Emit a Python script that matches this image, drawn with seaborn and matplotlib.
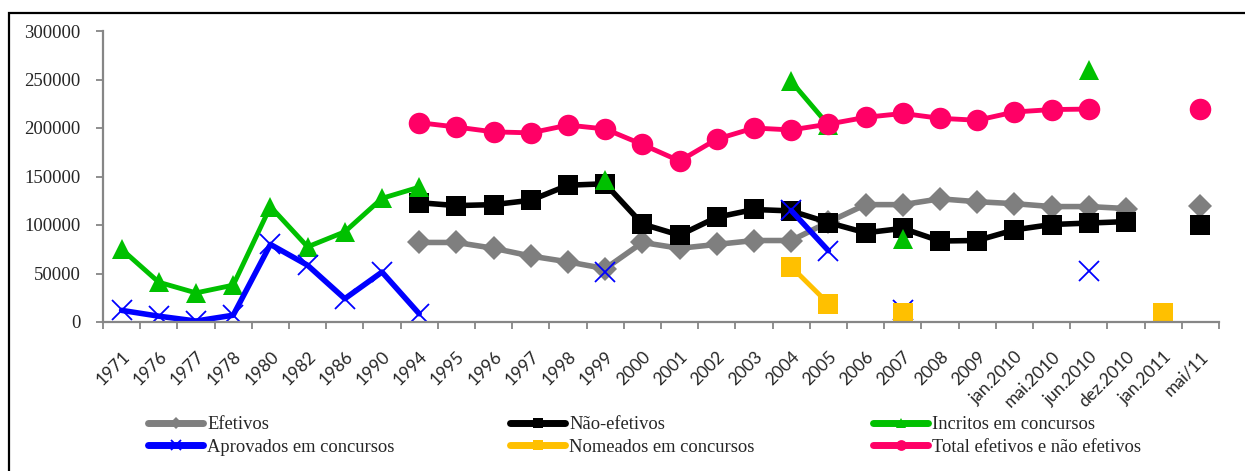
import numpy as np
import pandas as pd
import matplotlib
matplotlib.use("Agg")
import matplotlib.pyplot as plt
from matplotlib.lines import Line2D
from matplotlib.patches import Rectangle
from matplotlib.ticker import FixedLocator
import seaborn as sns

nan = np.nan

categories = ["1971", "1976", "1977", "1978", "1980", "1982", "1986", "1990", "1994", "1995",
              "1996", "1997", "1998", "1999", "2000", "2001", "2002", "2003", "2004", "2005",
              "2006", "2007", "2008", "2009", "jan.2010", "mai.2010", "jun.2010", "dez.2010",
              "jan.2011", "mai/11"]

efetivos = [nan, nan, nan, nan, nan, nan, nan, nan, 82000, 82000,
            76000, 68000, 62000, 55000, 82000, 76000, 80000, 84000, 84000, 103000,
            121000, 121000, 127000, 124000, 122000, 119000, 119000, 117000, nan, 120000]

nao_efetivos = [nan, nan, nan, nan, nan, nan, nan, nan, 123000, 120000,
                121000, 125500, 141000, 142500, 101000, 89500, 108000, 116000, 114500, 102500,
                92000, 96500, 83500, 84000, 95000, 100500, 102000, 103500, nan, 100000]

inscritos = [75000, 41000, 30000, 38000, 119000, 77500, 93000, 127500, 139000, nan,
             nan, nan, nan, 146000, nan, nan, nan, nan, 248000, 203000,
             nan, 86000, nan, nan, nan, nan, 260000, nan, nan, nan]

aprovados = [12000, 6000, 1000, 7000, 80000, 58500, 24000, 51500, 8500, nan,
             nan, nan, nan, 51500, nan, nan, nan, nan, 115000, 73500,
             nan, 12000, nan, nan, nan, nan, 52500, nan, nan, nan]

nomeados = [nan, nan, nan, nan, nan, nan, nan, nan, nan, nan,
            nan, nan, nan, nan, nan, nan, nan, nan, 57000, 19000,
            nan, 9000, nan, nan, nan, nan, nan, nan, 9500, nan]

total = [nan, nan, nan, nan, nan, nan, nan, nan, 205500, 201000,
         196000, 195000, 203000, 199000, 183000, 166000, 188500, 200000, 198000, 204000,
         211000, 215000, 210000, 208000, 216500, 219000, 219500, nan, nan, 219500]

series_names = ["Efetivos", "Não-efetivos", "Incritos em concursos",
                "Aprovados em concursos", "Nomeados em concursos", "Total efetivos e não efetivos"]
series_values = [efetivos, nao_efetivos, inscritos, aprovados, nomeados, total]

styles = [
    dict(color="#7f7f7f", marker="D", ms=12.5, lw=4.0, mew=0),
    dict(color="#000000", marker="s", ms=14.5, lw=4.0, mew=0),
    dict(color="#00c000", marker="^", ms=15, lw=3.5, mew=0),
    dict(color="#0000ff", marker="x", ms=14, lw=4.0, mew=1.3),
    dict(color="#ffc000", marker="s", ms=14.5, lw=3.5, mew=0),
    dict(color="#ff0066", marker="o", ms=15.5, lw=3.5, mew=0),
]

sns.set_theme(style="white")
plt.rcParams["font.family"] = ["Liberation Serif", "DejaVu Serif"]

fig = plt.figure(figsize=(12.45, 4.71), dpi=100)
ax = fig.add_axes([103 / 1245, 1 - 322 / 471, (1219 - 103) / 1245, (322 - 31) / 471])

x = np.arange(len(categories))
handles = []
for name, vals, st in zip(series_names, series_values, styles):
    v = np.array(vals, dtype=float)
    valid = ~np.isnan(v)
    seg = np.cumsum(~valid)
    df = pd.DataFrame({"x": x[valid], "y": v[valid], "seg": seg[valid]})
    sns.lineplot(data=df, x="x", y="y", units="seg", estimator=None, ax=ax,
                 color=st["color"], marker=st["marker"], markersize=st["ms"],
                 linewidth=st["lw"], markeredgewidth=st["mew"],
                 markeredgecolor=st["color"], markerfacecolor=st["color"],
                 legend=False, sort=False)
    handles.append(Line2D([], [], color=st["color"], marker=st["marker"],
                          markersize=st["ms"] * 0.5, linewidth=5.0,
                          solid_capstyle="round",
                          markeredgewidth=st["mew"], markeredgecolor=st["color"],
                          markerfacecolor=st["color"], label=name))

ax.set_xlim(-0.5, len(categories) - 0.5)
ax.set_ylim(0, 300000)
ax.set_xlabel("")
ax.set_ylabel("")
ax.set_xticks(x)
ax.set_xticklabels(categories, rotation=45, ha="right", va="top", rotation_mode="anchor",
                   fontsize=12.5, family=["Lato", "DejaVu Sans"])
ax.xaxis.set_minor_locator(FixedLocator(np.arange(-0.5, len(categories), 1.0)))
ax.set_yticks(np.arange(0, 300001, 50000))
ax.set_yticklabels([str(v) for v in range(0, 300001, 50000)], fontsize=13.5)

ax.tick_params(axis="x", which="major", length=0, pad=19)
ax.tick_params(axis="x", which="minor", length=5, width=1.3, color="#868686", direction="out", bottom=True)
ax.tick_params(axis="y", which="major", length=5, width=1.3, color="#868686", direction="out", left=True, pad=11)

for s in ["top", "right"]:
    ax.spines[s].set_visible(False)
for s in ["left", "bottom"]:
    ax.spines[s].set_color("#868686")
    ax.spines[s].set_linewidth(1.6)
ax.grid(False)

col_x = [148, 510, 873]
for c in range(3):
    lg = fig.legend(handles=[handles[c], handles[c + 3]], ncol=1, loc="center left",
                    bbox_to_anchor=(col_x[c] / 1245, 1 - 436 / 471),
                    frameon=False, fontsize=13.3, handlelength=3.0,
                    handletextpad=0.2, labelspacing=0.3, borderaxespad=0, borderpad=0)

fig.patches.append(Rectangle((9 / 1245, -0.05), 1.1, 0.05 + 1 - 13 / 471,
                             transform=fig.transFigure, fill=False,
                             edgecolor="black", linewidth=1.6, zorder=10))

fig.savefig("out.png", dpi=100, facecolor="white")
